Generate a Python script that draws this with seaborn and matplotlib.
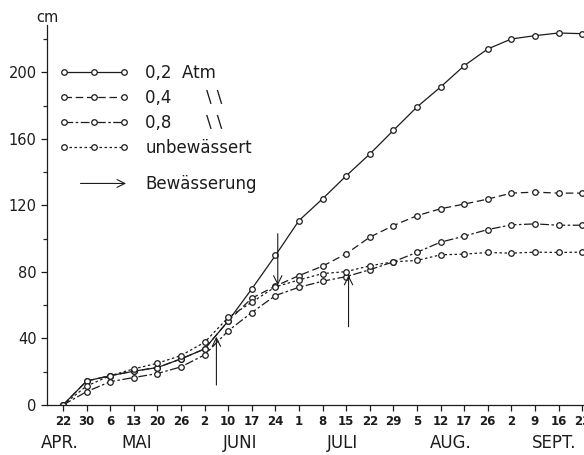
import numpy as np
import pandas as pd
import matplotlib
matplotlib.use("Agg")
import matplotlib.pyplot as plt
import seaborn as sns
from matplotlib.lines import Line2D
from matplotlib.patches import FancyArrowPatch
from matplotlib.legend_handler import HandlerBase

# Messtermine (Tag im Monat), gleichabständig aufgetragen
dates = ["22", "30", "6", "13", "20", "26", "2", "10", "17", "24", "1", "8",
         "15", "22", "29", "5", "12", "17", "26", "2", "9", "16", "23"]
months = ["APR.", "MAI", "JUNI", "JULI", "AUG.", "SEPT."]

# Wuchshöhe in cm
h_02 = [0, 14.4, 17.6, 20.3, 22.5, 27.7, 33.7, 50.5, 69.8, 89.9, 110.9, 124.0,
        137.8, 150.9, 165.1, 179.2, 191.2, 204.0, 214.1, 220.1, 222.1, 223.7, 223.3]
h_04 = [0, 14.4, 17.6, 20.3, 22.5, 27.7, 33.7, 50.5, 64.2, 71.5, 77.8, 83.5,
        90.9, 100.9, 107.9, 113.8, 118.0, 120.8, 123.8, 127.4, 128.0, 127.4, 127.4]
h_08 = [0, 8.0, 14.0, 16.5, 18.9, 22.9, 30.1, 44.6, 55.6, 65.8, 70.8, 74.4,
        77.2, 81.3, 86.1, 91.8, 97.9, 101.5, 105.5, 108.3, 108.9, 108.1, 108.1]
h_unb = [0, 11.4, 17.6, 21.7, 25.1, 29.7, 37.7, 52.6, 61.8, 71.0, 75.2, 79.0,
         80.2, 83.7, 86.1, 86.9, 90.3, 90.7, 91.7, 91.3, 91.9, 91.7, 91.9]

series = ["0,2  Atm", "0,4      \u2216\u2216", "0,8      \u2216\u2216", "unbewässert"]

# Bewässerungstermine (Position auf der Datumsachse) und Pfeilenden in cm
bew_pos = [6.5, 9.1, 12.1]
bew_from = [12, 103, 47]
bew_to = [41, 72, 78]

ink = "#1c1c1c"
month_x = [-0.15, 3.1, 7.5, 11.85, 16.45, 20.8]


class ArrowHandler(HandlerBase):
    def create_artists(self, legend, orig_handle, xdescent, ydescent,
                       width, height, fontsize, trans):
        y = height / 2 - ydescent
        arr = FancyArrowPatch((0.27 * width - xdescent, y), (width - xdescent, y),
                              arrowstyle="->", mutation_scale=14, lw=0.8,
                              color=ink, transform=trans)
        return [arr]


df = pd.DataFrame({
    "pos": np.tile(np.arange(len(dates)), 4),
    "cm": h_02 + h_04 + h_08 + h_unb,
    "serie": np.repeat(series, len(dates)),
})

sns.set_style("ticks")
plt.rcParams["font.family"] = ["DejaVu Sans"]

fig = plt.figure(figsize=(5.84, 4.55), dpi=100)
ax = fig.add_axes([0.0805, 0.11, 0.9195, 0.835])

dash_map = {series[0]: "", series[1]: (6, 3), series[2]: (7, 2, 2, 2),
            series[3]: (2, 2)}
msize = 4
sns.lineplot(data=df, x="pos", y="cm", style="serie", style_order=series,
             dashes=dash_map, markers={s: "o" for s in series},
             color=ink, lw=0.9, markersize=msize, errorbar=None, legend=False, ax=ax)
for ln in ax.lines:
    ln.set_markerfacecolor("white")
    ln.set_markeredgecolor(ink)
    ln.set_markeredgewidth(0.9)

for x, y0, y1 in zip(bew_pos, bew_from, bew_to):
    ax.annotate("", xy=(x, y1), xytext=(x, y0),
                arrowprops=dict(arrowstyle="->", lw=0.8, color=ink,
                                mutation_scale=15, shrinkA=0, shrinkB=0))

ax.set_xlim(-0.68, 22.08)
ax.set_ylim(0, 228.5)
ax.set_xticks(np.arange(len(dates)))
ax.set_xticklabels(dates, fontsize=8.5, fontweight="bold", color=ink)
ax.set_yticks(np.arange(0, 201, 40))
ax.set_yticks(np.arange(20, 221, 40), minor=True)
ax.tick_params(axis="y", labelsize=10.5, colors=ink, length=4, width=0.9)
ax.tick_params(axis="y", which="minor", length=3, width=0.9)
ax.tick_params(axis="x", length=4, width=0.9, pad=3, colors=ink)
ax.set_xlabel("")
ax.set_ylabel("")
sns.despine(ax=ax)
for sp in ax.spines.values():
    sp.set_linewidth(0.9)
    sp.set_color(ink)

for name, mx in zip(months, month_x):
    ax.text(mx, -0.10, name, transform=ax.get_xaxis_transform(),
            ha="center", va="center", fontsize=12, color=ink)
ax.text(0, 1.021, "cm", transform=ax.transAxes, ha="center", va="center",
        fontsize=10.5, color=ink)

handles = []
for s in series:
    handles.append(Line2D([], [], color=ink, lw=0.9,
                          ls="-" if dash_map[s] == "" else (0, dash_map[s]),
                          marker="o", markersize=msize, markerfacecolor="white",
                          markeredgecolor=ink, markeredgewidth=0.9))
leg_kw = dict(loc="upper left", frameon=False, fontsize=12, numpoints=3,
              handlelength=4.2, handletextpad=1.0, labelspacing=0.42,
              borderpad=0, borderaxespad=0, labelcolor=ink)
leg1 = ax.legend(handles, series, bbox_to_anchor=(0.022, 0.897), **leg_kw)
ax.add_artist(leg1)

arrow_handle = object()
ax.legend([arrow_handle], ["Bewässerung"], bbox_to_anchor=(0.022, 0.6045),
          handler_map={arrow_handle: ArrowHandler()}, **leg_kw)

fig.savefig("out.png", dpi=100, facecolor="white")
